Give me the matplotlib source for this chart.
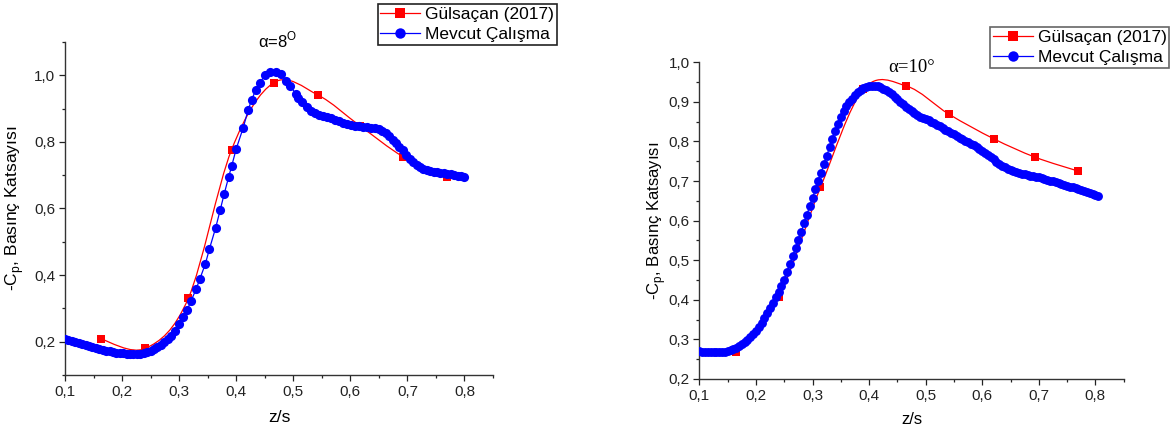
import matplotlib
matplotlib.use("Agg")
import matplotlib.pyplot as plt
from matplotlib.path import Path
from matplotlib.patches import PathPatch
from matplotlib.lines import Line2D
from matplotlib.ticker import MultipleLocator, FuncFormatter

plt.rcParams['font.family'] = ['Liberation Sans', 'DejaVu Sans']
plt.rcParams['mathtext.fontset'] = 'custom'
plt.rcParams['mathtext.rm'] = 'Liberation Sans'

# ---------------- data: alpha = 8 deg ----------------
ref8_x = [0.163, 0.241, 0.316, 0.392, 0.466, 0.543, 0.617, 0.692, 0.770]
ref8_y = [0.208, 0.180, 0.330, 0.777, 0.978, 0.941, 0.848, 0.756, 0.694]

cur8_x = [0.100, 0.106, 0.112, 0.118, 0.124, 0.130, 0.136, 0.142, 0.148, 0.154,
          0.160, 0.166, 0.172, 0.178, 0.184, 0.190, 0.196, 0.202, 0.208, 0.214,
          0.220, 0.226, 0.232, 0.238, 0.244, 0.250, 0.256, 0.262, 0.268, 0.274,
          0.280, 0.286, 0.292, 0.299, 0.307, 0.314, 0.321, 0.330, 0.336, 0.346,
          0.353, 0.364, 0.372, 0.379, 0.387, 0.392, 0.400, 0.412, 0.421, 0.427,
          0.434, 0.441, 0.451, 0.459, 0.470, 0.478, 0.488, 0.495, 0.504, 0.509,
          0.516, 0.524, 0.531, 0.538, 0.545, 0.552, 0.559, 0.566, 0.573, 0.580,
          0.587, 0.594, 0.601, 0.608, 0.615, 0.622, 0.629, 0.636, 0.643, 0.650,
          0.656, 0.662, 0.668, 0.674, 0.680, 0.686, 0.692, 0.698, 0.704, 0.710,
          0.716, 0.722, 0.728, 0.734, 0.740, 0.746, 0.752, 0.758, 0.764, 0.770,
          0.776, 0.782, 0.788, 0.794, 0.800]
cur8_y = [0.207, 0.205, 0.202, 0.199, 0.196, 0.193, 0.190, 0.187, 0.184, 0.181,
          0.178, 0.175, 0.173, 0.171, 0.169, 0.167, 0.166, 0.165, 0.164, 0.163,
          0.163, 0.163, 0.164, 0.166, 0.169, 0.173, 0.178, 0.184, 0.191, 0.199,
          0.208, 0.218, 0.232, 0.252, 0.273, 0.295, 0.323, 0.359, 0.387, 0.434,
          0.478, 0.542, 0.596, 0.644, 0.696, 0.727, 0.779, 0.841, 0.896, 0.926,
          0.955, 0.977, 1.001, 1.010, 1.010, 1.003, 0.983, 0.968, 0.945, 0.933,
          0.920, 0.905, 0.893, 0.886, 0.881, 0.878, 0.875, 0.871, 0.867, 0.862,
          0.858, 0.854, 0.851, 0.849, 0.847, 0.845, 0.844, 0.843, 0.841, 0.838,
          0.833, 0.826, 0.817, 0.807, 0.797, 0.786, 0.775, 0.762, 0.750, 0.740,
          0.732, 0.725, 0.719, 0.715, 0.712, 0.710, 0.709, 0.707, 0.706, 0.705,
          0.703, 0.701, 0.699, 0.697, 0.694]

# ---------------- data: alpha = 10 deg ----------------
ref10_x = [0.164, 0.240, 0.314, 0.390, 0.466, 0.541, 0.620, 0.694, 0.770]
ref10_y = [0.267, 0.406, 0.684, 0.932, 0.940, 0.869, 0.807, 0.760, 0.725]

cur10_x = [0.100, 0.105, 0.110, 0.115, 0.120, 0.125, 0.130, 0.135, 0.140, 0.145,
           0.150, 0.155, 0.160, 0.165, 0.170, 0.175, 0.180, 0.185, 0.190, 0.195,
           0.200, 0.205, 0.210, 0.215, 0.220, 0.225, 0.230, 0.235, 0.240, 0.245,
           0.250, 0.255, 0.260, 0.265, 0.270, 0.275, 0.280, 0.285, 0.290, 0.295,
           0.300, 0.305, 0.310, 0.315, 0.320, 0.325, 0.330, 0.335, 0.340, 0.345,
           0.350, 0.355, 0.360, 0.365, 0.370, 0.375, 0.380, 0.385, 0.390, 0.395,
           0.400, 0.405, 0.410, 0.415, 0.420, 0.425, 0.430, 0.435, 0.440, 0.445,
           0.450, 0.455, 0.460, 0.465, 0.470, 0.475, 0.480, 0.485, 0.490, 0.495,
           0.500, 0.505, 0.510, 0.515, 0.520, 0.525, 0.530, 0.535, 0.540, 0.545,
           0.550, 0.555, 0.560, 0.565, 0.570, 0.575, 0.580, 0.585, 0.590, 0.595,
           0.600, 0.605, 0.610, 0.615, 0.620, 0.625, 0.630, 0.635, 0.640, 0.645,
           0.650, 0.655, 0.660, 0.665, 0.670, 0.675, 0.680, 0.685, 0.690, 0.695,
           0.700, 0.705, 0.710, 0.715, 0.720, 0.725, 0.730, 0.735, 0.740, 0.745,
           0.750, 0.755, 0.760, 0.765, 0.770, 0.775, 0.780, 0.785, 0.790, 0.795,
           0.800, 0.805]
cur10_y = [0.270, 0.269, 0.268, 0.268, 0.267, 0.267, 0.267, 0.267, 0.268, 0.269,
           0.271, 0.273, 0.276, 0.279, 0.283, 0.288, 0.293, 0.299, 0.306, 0.314,
           0.322, 0.332, 0.342, 0.354, 0.366, 0.379, 0.393, 0.406, 0.420, 0.435,
           0.450, 0.470, 0.490, 0.510, 0.530, 0.551, 0.572, 0.594, 0.615, 0.637,
           0.658, 0.679, 0.700, 0.721, 0.742, 0.764, 0.785, 0.806, 0.826, 0.845,
           0.862, 0.876, 0.889, 0.899, 0.908, 0.917, 0.924, 0.930, 0.934, 0.937,
           0.939, 0.940, 0.940, 0.939, 0.937, 0.933, 0.929, 0.924, 0.919, 0.913,
           0.907, 0.900, 0.894, 0.887, 0.881, 0.876, 0.871, 0.867, 0.863, 0.860,
           0.857, 0.853, 0.850, 0.846, 0.842, 0.838, 0.834, 0.830, 0.826, 0.822,
           0.818, 0.814, 0.810, 0.806, 0.802, 0.798, 0.794, 0.790, 0.786, 0.782,
           0.777, 0.772, 0.766, 0.761, 0.755, 0.749, 0.744, 0.739, 0.735, 0.731,
           0.728, 0.725, 0.723, 0.721, 0.719, 0.717, 0.715, 0.714, 0.712, 0.711,
           0.709, 0.707, 0.705, 0.703, 0.701, 0.699, 0.697, 0.695, 0.693, 0.691,
           0.688, 0.686, 0.684, 0.682, 0.679, 0.677, 0.675, 0.672, 0.670, 0.668,
           0.665, 0.663]

ref_label = "Gülsaçan (2017)"
cur_label = "Mevcut Çalışma"
ylabel_text = "-C$_\\mathregular{p}$, Basınç Katsayısı"
xlabel_text = "z/s"

RED = "#ff0000"
BLUE = "#0000ff"


def spline_patch(xs, ys, color, lw):
    """Smooth (Catmull-Rom style) connecting line through the markers."""
    pts = list(zip(xs, ys))
    n = len(pts)
    verts = [pts[0]]
    codes = [Path.MOVETO]
    for i in range(n - 1):
        p0 = pts[max(i - 1, 0)]
        p1 = pts[i]
        p2 = pts[i + 1]
        p3 = pts[min(i + 2, n - 1)]
        c1 = (p1[0] + (p2[0] - p0[0]) / 6.0, p1[1] + (p2[1] - p0[1]) / 6.0)
        c2 = (p2[0] - (p3[0] - p1[0]) / 6.0, p2[1] - (p3[1] - p1[1]) / 6.0)
        verts += [c1, c2, p2]
        codes += [Path.CURVE4] * 3
    return PathPatch(Path(verts, codes), facecolor='none', edgecolor=color,
                     lw=lw, zorder=2)


comma = FuncFormatter(lambda v, p: f"{v:.1f}".replace('.', ','))

fig = plt.figure(figsize=(11.71, 4.30), dpi=100)

ax1 = fig.add_axes([65 / 1171, 1 - 375 / 430, 428 / 1171, 333 / 430])
ax2 = fig.add_axes([699.4 / 1171, 1 - 379 / 430, 424.3 / 1171, 316.7 / 430])

panels = [
    (ax1, ref8_x, ref8_y, cur8_x, cur8_y, (0.1, 1.1), 0.2, 0.1, 6.6),
    (ax2, ref10_x, ref10_y, cur10_x, cur10_y, (0.2, 1.0), 0.1, 0.05, 6.4),
]

for ax, rx, ry, cx, cy, ylim, ymaj, ymin, ms in panels:
    ax.add_patch(spline_patch(rx, ry, RED, 0.9))
    ax.plot(rx, ry, linestyle='none', marker='s', ms=5.6, color=RED,
            markeredgewidth=0, zorder=3)
    ax.plot(cx, cy, linestyle='-', lw=0.9, marker='o', ms=ms, color=BLUE,
            markeredgewidth=0, zorder=4)
    ax.set_xlim(0.1, 0.85)
    ax.set_ylim(*ylim)
    ax.xaxis.set_major_locator(MultipleLocator(0.1))
    ax.xaxis.set_minor_locator(MultipleLocator(0.05))
    ax.yaxis.set_major_locator(MultipleLocator(ymaj))
    ax.yaxis.set_minor_locator(MultipleLocator(ymin))
    ax.xaxis.set_major_formatter(comma)
    ax.yaxis.set_major_formatter(comma)
    for s in ('top', 'right'):
        ax.spines[s].set_visible(False)
    for s in ('left', 'bottom'):
        ax.spines[s].set_linewidth(1.0)
        ax.spines[s].set_color('#333333')
    ax.tick_params(which='major', direction='out', length=4, width=0.9,
                   labelsize=11, pad=3, colors='#222222')
    ax.tick_params(which='minor', direction='out', length=2.5, width=0.9,
                   colors='#222222')
    ax.set_xlabel(xlabel_text, fontsize=12.5)
    ax.set_ylabel(ylabel_text, fontsize=12.5)

ax1.xaxis.set_label_coords(0.5, -0.105)
ax1.yaxis.set_label_coords(-0.092, 0.5)
ax2.xaxis.set_label_coords(0.5, -0.105)
ax2.yaxis.set_label_coords(-0.075, 0.5)
ax2.yaxis.label.set_size(12)
ax2.xaxis.label.set_size(12)

# titles
fig.text(278 / 1171, 1 - 40 / 430, "α=8$^{\\mathregular{O}}$", fontsize=12,
         ha='center', va='center')
fig.text(912 / 1171, 1 - 68 / 430, "α=10°", fontsize=13.5,
         family=['Liberation Serif', 'DejaVu Serif'], ha='center', va='center')

# legends
handles = [
    Line2D([], [], color=RED, lw=0.9, marker='s', ms=6.5, markeredgewidth=0),
    Line2D([], [], color=BLUE, lw=0.9, marker='o', ms=7.5, markeredgewidth=0),
]
for (lx, ty, edge) in [(377.5, 4, '#222222'), (990, 27, '#666666')]:
    leg = fig.legend(handles, [ref_label, cur_label], loc='upper left',
                     bbox_to_anchor=(lx / 1171, 1 - ty / 430),
                     bbox_transform=fig.transFigure, borderaxespad=0,
                     fontsize=12.5, frameon=True, fancybox=False,
                     handlelength=2.3, handletextpad=0.3, borderpad=0.15,
                     labelspacing=0.3)
    fr = leg.get_frame()
    fr.set_edgecolor(edge)
    fr.set_linewidth(1.2)
    fr.set_alpha(1)

fig.savefig("out.png", dpi=100)
